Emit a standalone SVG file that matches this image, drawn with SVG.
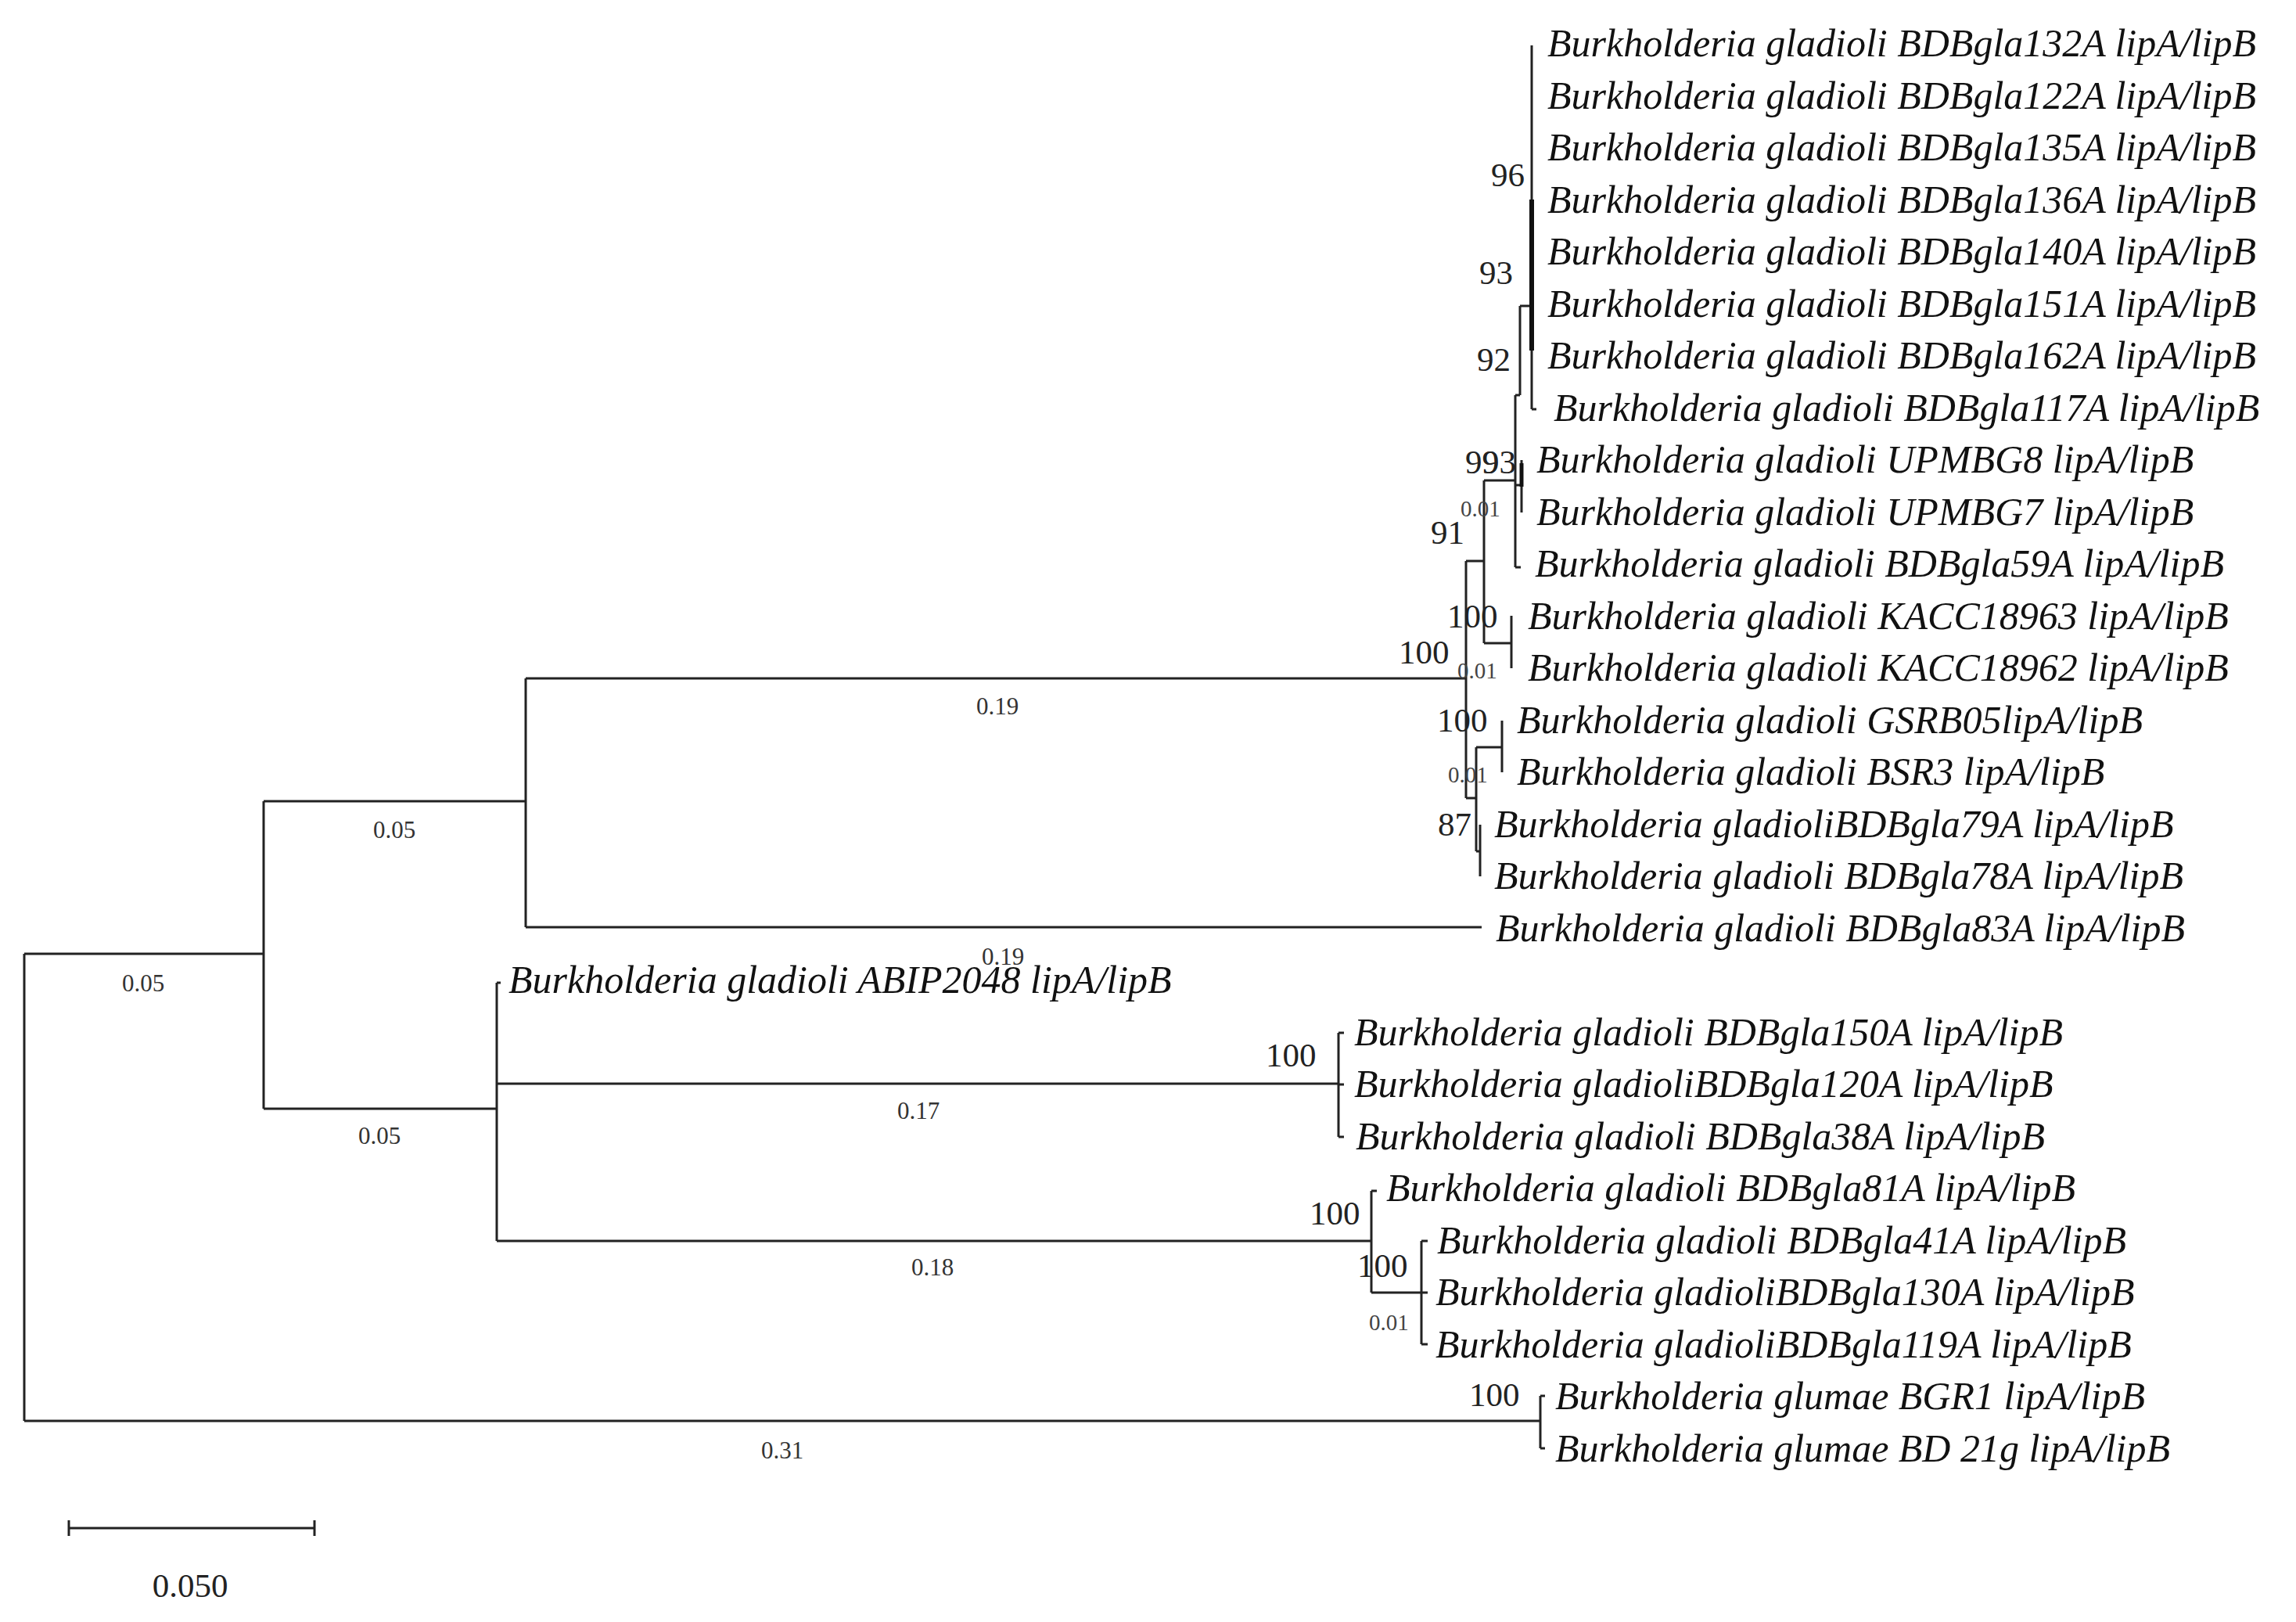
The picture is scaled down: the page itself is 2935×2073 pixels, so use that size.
<svg xmlns="http://www.w3.org/2000/svg" width="2935" height="2073" viewBox="0 0 2935 2073">
<style>
.l{fill:none;stroke:#222;stroke-width:3}
.t{font-family:"Liberation Serif",serif;font-style:italic;font-size:50px;fill:#111}
.b{font-family:"Liberation Serif",serif;font-size:43px;fill:#222}
.s{font-family:"Liberation Serif",serif;font-size:31px;fill:#333;text-anchor:middle}
.m{font-family:"Liberation Serif",serif;font-size:29px;fill:#444}
</style>
<rect width="2935" height="2073" fill="#fff"/>
<g id="connectors">
<path class="l" d="M31 1219V1816M31 1219H337M31 1816H1969M1969 1784V1851M1969 1784H1975M1969 1851H1975"/>
<path class="l" d="M337 1024V1417M337 1024H672M337 1417H635"/>
<path class="l" d="M672 867V1185M672 867H1874M672 1185H1894"/>
<path class="l" d="M635 1256V1586M635 1256H640M635 1385H1711M635 1586H1753"/>
<path class="l" d="M1711 1320V1453M1711 1320H1718M1711 1386H1718M1711 1453H1718"/>
<path class="l" d="M1753 1522V1652M1753 1522H1760M1753 1652H1817M1817 1586V1718M1817 1586H1825M1817 1652H1825M1817 1718H1825"/>
<path class="l" d="M1874 717V1020M1874 717H1897M1874 1020H1887"/>
<path class="l" d="M1887 955V1088M1887 955H1920M1920 921V987M1887 1088H1892M1892 1054V1120"/>
<path class="l" d="M1897 614V822M1897 822H1932M1932 787V854M1897 614H1937"/>
<path class="l" d="M1937 505V725M1937 725H1944M1937 620H1945M1945 588V655M1937 505H1943M1943 391V505M1943 391H1958"/>
<path class="l" d="M1958 58V523M1958 523H1964"/>
<path d="M1958 255V448" stroke="#111" stroke-width="6"/>
<path d="M1945 592V622" stroke="#111" stroke-width="5"/>
<path class="l" d="M88 1953H402M88 1943V1963M402 1943V1963"/>
</g>
<g id="leaves">
<text class="t" x="1978" y="72">Burkholderia gladioli BDBgla132A lipA/lipB</text>
<text class="t" x="1978" y="139">Burkholderia gladioli  BDBgla122A lipA/lipB</text>
<text class="t" x="1978" y="205">Burkholderia gladioli BDBgla135A lipA/lipB</text>
<text class="t" x="1978" y="272">Burkholderia gladioli BDBgla136A lipA/lipB</text>
<text class="t" x="1978" y="338">Burkholderia gladioli BDBgla140A lipA/lipB</text>
<text class="t" x="1978" y="405">Burkholderia gladioli BDBgla151A lipA/lipB</text>
<text class="t" x="1978" y="471">Burkholderia gladioli BDBgla162A lipA/lipB</text>
<text class="t" x="1986" y="538">Burkholderia gladioli BDBgla117A lipA/lipB</text>
<text class="t" x="1964" y="604">Burkholderia gladioli UPMBG8 lipA/lipB</text>
<text class="t" x="1964" y="671">Burkholderia gladioli UPMBG7 lipA/lipB</text>
<text class="t" x="1962" y="737">Burkholderia gladioli BDBgla59A lipA/lipB</text>
<text class="t" x="1953" y="804">Burkholderia gladioli KACC18963 lipA/lipB</text>
<text class="t" x="1953" y="870">Burkholderia gladioli KACC18962 lipA/lipB</text>
<text class="t" x="1939" y="937">Burkholderia gladioli GSRB05lipA/lipB</text>
<text class="t" x="1939" y="1003">Burkholderia gladioli BSR3 lipA/lipB</text>
<text class="t" x="1910" y="1070">Burkholderia gladioliBDBgla79A lipA/lipB</text>
<text class="t" x="1910" y="1136">Burkholderia gladioli BDBgla78A lipA/lipB</text>
<text class="t" x="1912" y="1203">Burkholderia gladioli BDBgla83A lipA/lipB</text>
<text class="t" x="650" y="1269">Burkholderia gladioli ABIP2048 lipA/lipB</text>
<text class="t" x="1731" y="1336">Burkholderia gladioli BDBgla150A lipA/lipB</text>
<text class="t" x="1731" y="1402">Burkholderia gladioliBDBgla120A lipA/lipB</text>
<text class="t" x="1733" y="1469">Burkholderia gladioli BDBgla38A lipA/lipB</text>
<text class="t" x="1772" y="1535">Burkholderia gladioli BDBgla81A lipA/lipB</text>
<text class="t" x="1837" y="1602">Burkholderia gladioli BDBgla41A lipA/lipB</text>
<text class="t" x="1835" y="1668">Burkholderia gladioliBDBgla130A lipA/lipB</text>
<text class="t" x="1835" y="1735">Burkholderia gladioliBDBgla119A lipA/lipB</text>
<text class="t" x="1988" y="1801">Burkholderia glumae BGR1 lipA/lipB</text>
<text class="t" x="1988" y="1868">Burkholderia glumae BD 21g lipA/lipB</text>
</g>
<g id="bootstrap">
<text class="b" x="1906" y="238">96</text>
<text class="b" x="1891" y="363">93</text>
<text class="b" x="1888" y="474">92</text>
<text class="b" x="1873" y="605">99</text>
<text class="b" x="1895" y="605">93</text>
<text class="b" x="1829" y="695">91</text>
<text class="b" x="1850" y="802">100</text>
<text class="b" x="1788" y="848">100</text>
<text class="b" x="1837" y="935">100</text>
<text class="b" x="1838" y="1068">87</text>
<text class="b" x="1618" y="1363">100</text>
<text class="b" x="1674" y="1565">100</text>
<text class="b" x="1735" y="1632">100</text>
<text class="b" x="1878" y="1797">100</text>
<text class="m" x="1867" y="660">0.01</text>
<text class="m" x="1863" y="867">0.01</text>
<text class="m" x="1851" y="1000">0.01</text>
<text class="m" x="1750" y="1700">0.01</text>
</g>
<g id="branch-lengths">
<text class="s" x="1275" y="913">0.19</text>
<text class="s" x="504" y="1071">0.05</text>
<text class="s" x="183" y="1267">0.05</text>
<text class="s" x="1282" y="1233">0.19</text>
<text class="s" x="1174" y="1430">0.17</text>
<text class="s" x="485" y="1462">0.05</text>
<text class="s" x="1192" y="1630">0.18</text>
<text class="s" x="1000" y="1864">0.31</text>
<text class="b" x="243" y="2041" text-anchor="middle">0.050</text>
</g>
</svg>
